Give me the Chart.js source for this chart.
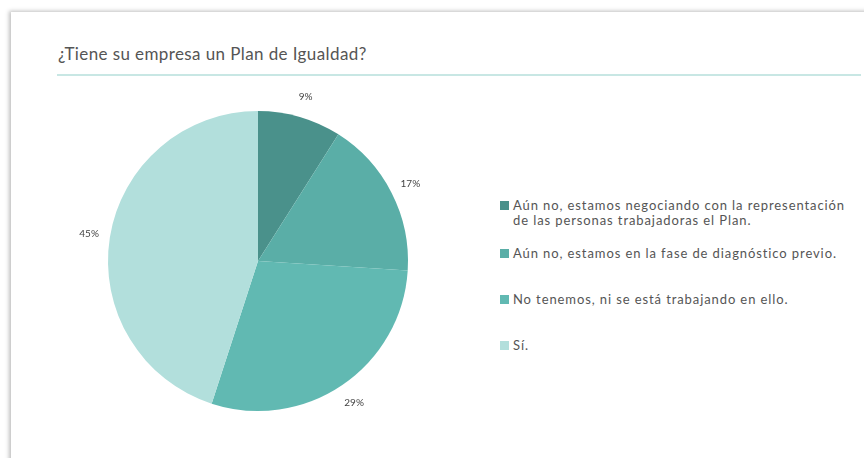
<!DOCTYPE html>
<html>
<head>
<meta charset="utf-8">
<script src="https://cdn.jsdelivr.net/npm/chart.js@4.4.1/dist/chart.umd.min.js"></script>
<style>
    html, body { margin: 0; padding: 0; background: #fff; width: 864px; height: 458px; overflow: hidden; font-family: Lato, 'Open Sans', sans-serif; }
    .card { position: absolute; left: 11px; top: 12px; width: 880px; height: 470px; background: #fff; box-shadow: -2px -1px 4px rgba(0,0,0,0.25); }
    .title { position: absolute; left: 58px; top: 43px; font-size: 17px; color: #555; letter-spacing: 0.4px; }
    .rule { position: absolute; left: 57px; top: 74px; width: 804px; height: 2px; background: #c8e7e4; }
    .chartBox { position: absolute; left: 38px; top: 91px; width: 440px; height: 340px; }
    .legend { position: absolute; left: 500px; top: 0; }
    .legend-item { position: absolute; left: 0; width: 360px; font-size: 13px; color: #555; line-height: 15px; letter-spacing: 0.9px; padding-left: 13px; }
    .legend-item .box { position: absolute; left: 0; top: 3px; width: 9px; height: 9px; }
</style>
</head>
<body>
<div class="card"></div>
<div class="title">¿Tiene su empresa un Plan de Igualdad?</div>
<div class="rule"></div>
<div class="chartBox"><canvas id="pieChart"></canvas></div>
<div class="legend" id="legend"></div>

<script>
const categories = [
    ['Aún no, estamos negociando con la representación', 'de las personas trabajadoras el Plan.'],
    ['Aún no, estamos en la fase de diagnóstico previo.'],
    ['No tenemos, ni se está trabajando en ello.'],
    ['Sí.']
];
const values = [9, 17, 29, 45];
const sliceColors = ['#4a918b', '#5aaea7', '#61b9b2', '#b2dfdc'];
const legendTops = [198, 246, 292, 338];

// outside percentage labels, placed from the arc elements
const outsideLabels = {
    id: 'outsideLabels',
    afterDatasetsDraw(chart) {
        const ctx = chart.ctx;
        const meta = chart.getDatasetMeta(0);
        ctx.save();
        ctx.font = '10px Lato, sans-serif';
        ctx.fillStyle = '#444';
        ctx.textAlign = 'center';
        ctx.textBaseline = 'middle';
        meta.data.forEach((arc, i) => {
            const p = arc.getProps(['x', 'y', 'startAngle', 'endAngle', 'outerRadius'], true);
            const mid = (p.startAngle + p.endAngle) / 2;
            const r = p.outerRadius + 21;
            ctx.fillText(values[i] + '%', p.x + Math.cos(mid) * r, p.y + Math.sin(mid) * r);
        });
        ctx.restore();
    }
};

new Chart(document.getElementById('pieChart').getContext('2d'), {
    type: 'pie',
    data: {
        labels: categories.map(c => c.join(' ')),
        datasets: [{
            data: values,
            backgroundColor: sliceColors,
            borderWidth: 0
        }]
    },
    options: {
        responsive: true,
        maintainAspectRatio: false,
        animation: false,
        layout: { padding: { left: 70, right: 70, top: 20, bottom: 20 } },
        plugins: {
            legend: { display: false },
            tooltip: { enabled: false }
        }
    },
    plugins: [outsideLabels]
});

document.getElementById('legend').innerHTML = categories.map((c, i) => `
    <div class="legend-item" style="top:${legendTops[i]}px;">
        <span class="box" style="background:${sliceColors[i]};"></span>${c.join('<br>')}
    </div>`).join('');
</script>
</body>
</html>
